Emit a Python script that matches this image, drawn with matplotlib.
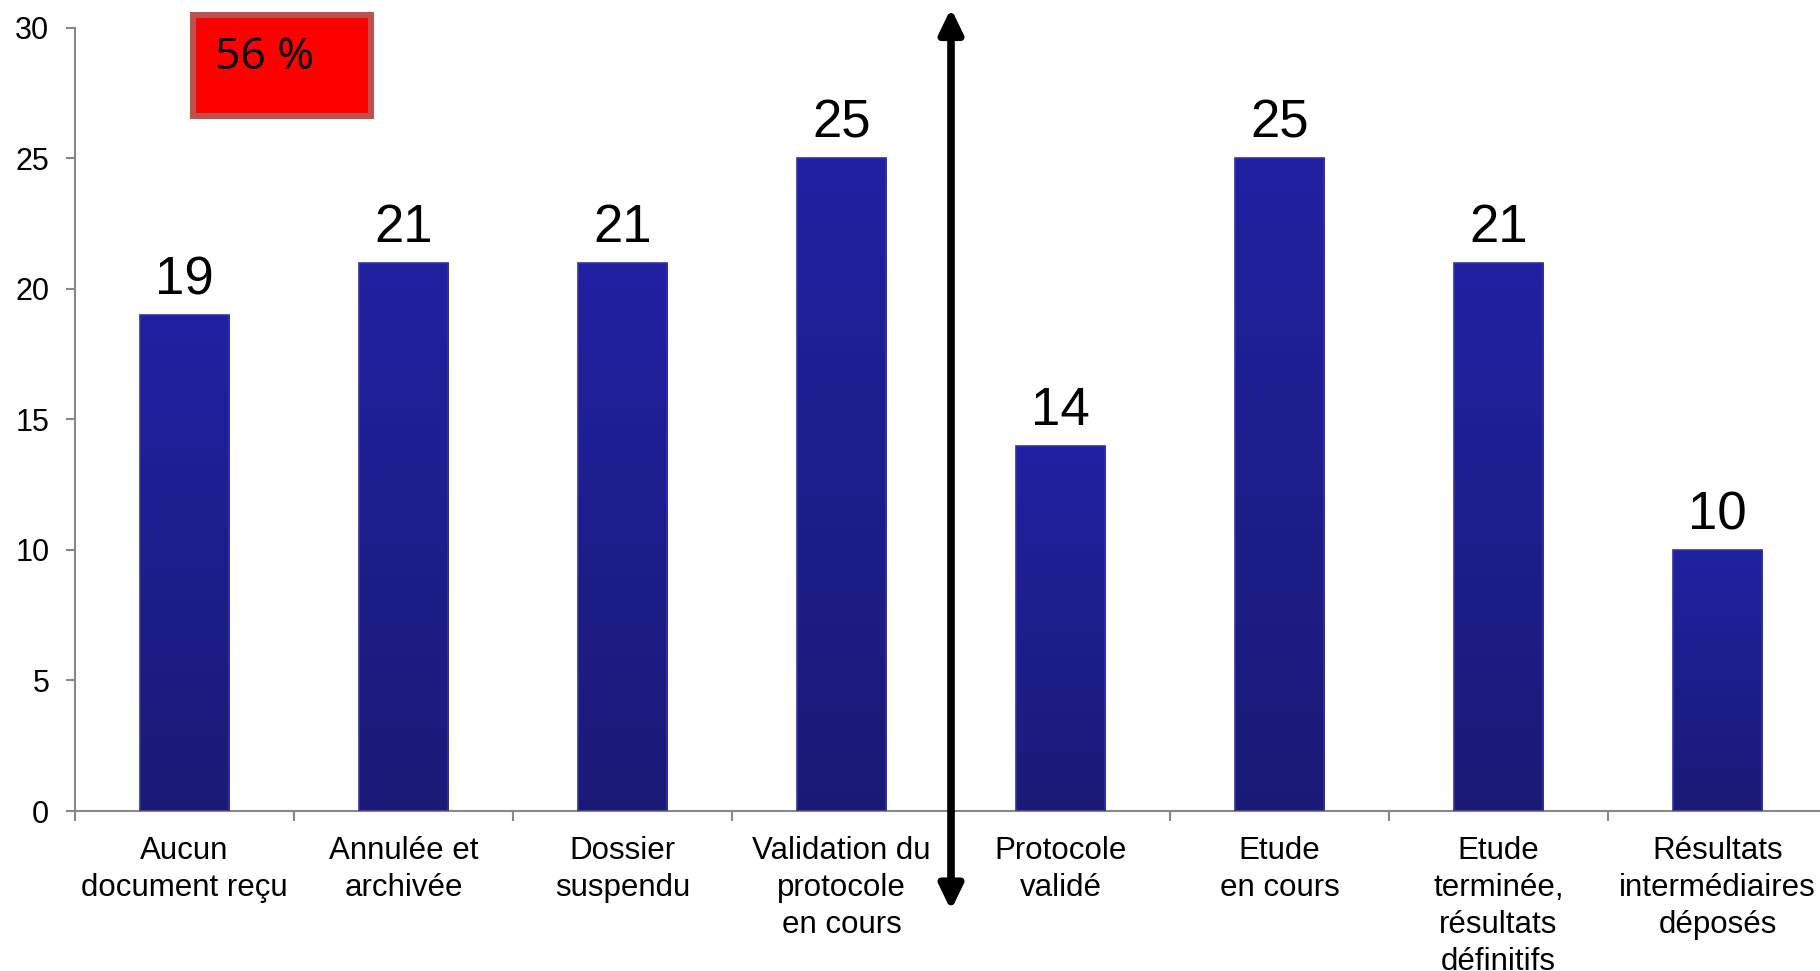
import matplotlib
matplotlib.use("Agg")
import matplotlib.pyplot as plt
from matplotlib.patches import Rectangle
import numpy as np

plt.rcParams['font.family'] = ['Liberation Sans', 'DejaVu Sans']

# categories and counts
categories = ["Aucun\ndocument reçu", "Annulée et\narchivée", "Dossier\nsuspendu",
              "Validation du\nprotocole\nen cours", "Protocole\nvalidé", "Etude\nen cours",
              "Etude\nterminée,\nrésultats\ndéfinitifs", "Résultats\nintermédiaires\ndéposés"]
values = [19, 21, 21, 25, 14, 25, 21, 10]
yticks = [0, 5, 10, 15, 20, 25, 30]
badge_text = "56 %"
split_at = 3.5   # arrow between "Validation du protocole" and "Protocole validé"

fig = plt.figure(figsize=(18.2, 9.71), dpi=100)
ax = fig.add_axes([75/1820, 160/971, 1752/1820, (811-27.9)/971])

x = np.arange(len(values))
w = 0.41
bars = ax.bar(x, values, width=w, color='none', edgecolor='#3232a6', linewidth=1.2, zorder=3)

# vertical gradient inside each bar
grad = np.linspace(0, 1, 256).reshape(-1, 1)
cmap = matplotlib.colors.LinearSegmentedColormap.from_list('bar', ['#1a1a76', '#2121a2'])
for b, v in zip(bars, values):
    im = ax.imshow(grad, cmap=cmap, origin='lower', aspect='auto', zorder=2,
                   extent=[b.get_x(), b.get_x() + b.get_width(), 0, v])
    im.set_clip_path(b)

for xi, v in zip(x, values):
    ax.annotate(str(v), (xi, v), xytext=(0, 15), textcoords='offset points',
                ha='center', va='baseline', fontsize=38, color='black')

ax.set_xlim(-0.5, len(values) - 0.5)
ax.set_ylim(0, 30)

for s in ['top', 'right']:
    ax.spines[s].set_visible(False)
for s in ['left', 'bottom']:
    ax.spines[s].set_color('#888888')
    ax.spines[s].set_linewidth(1.5)

ax.set_yticks(yticks)
ax.tick_params(axis='y', length=6.5, width=1.5, color='#888888', pad=12, labelsize=22)

# boundary ticks as major, labels on minor ticks at bar centres
ax.set_xticks(np.arange(-0.5, len(values) + 0.5, 1))
ax.set_xticklabels([])
ax.set_xticks(x, minor=True)
ax.set_xticklabels(categories, minor=True, fontsize=22.5, linespacing=1.3)
ax.tick_params(axis='x', which='major', length=7, width=1.5, color='#888888')
ax.tick_params(axis='x', which='minor', length=0, pad=18)

# double headed arrow splitting the two phases
ax.annotate('', xy=(split_at, 30.75), xytext=(split_at, -3.8), xycoords='data',
            annotation_clip=False,
            arrowprops=dict(arrowstyle='<|-|>,head_length=1.45,head_width=0.7',
                            mutation_scale=10, lw=5.5, color='black',
                            shrinkA=0, shrinkB=0))

# red badge
fig.patches.append(Rectangle((193/1820, (971-116)/971), 178/1820, 101/971,
                             transform=fig.transFigure, facecolor='#ff0000',
                             edgecolor='#c0504d', linewidth=4.3, zorder=5))
fig.text(215/1820, (971-58)/971, badge_text, fontsize=32, family=['Open Sans', 'DejaVu Sans'],
         ha='left', va='center', color='black', zorder=6)

fig.savefig('out.png', dpi=100)
